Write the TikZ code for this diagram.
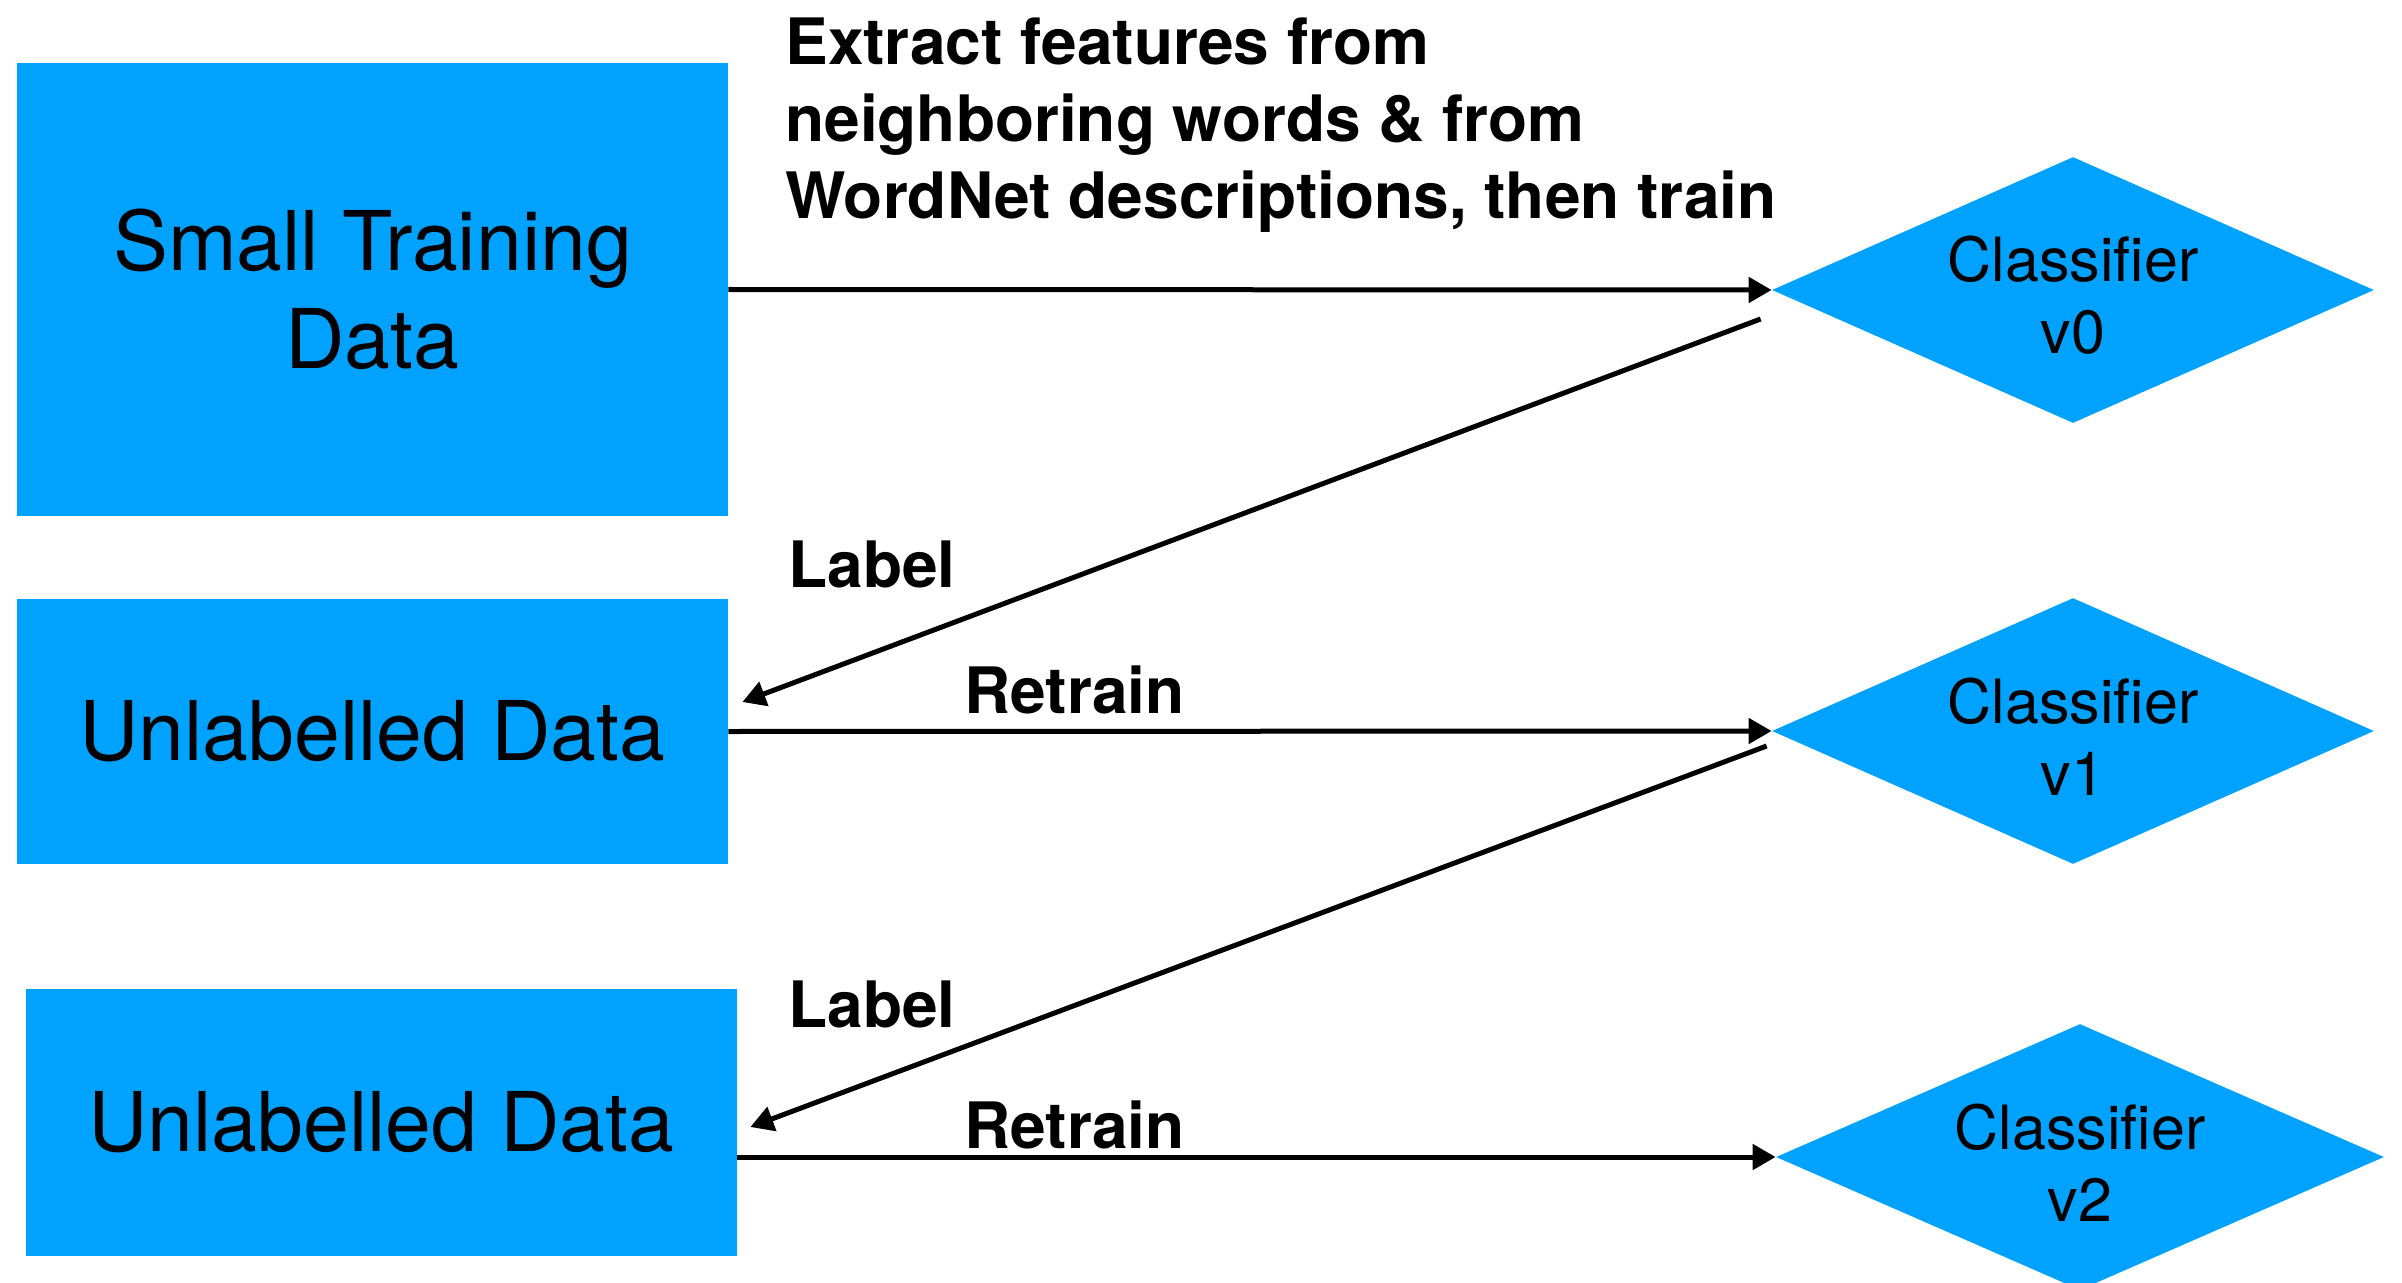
\documentclass[tikz,border=0pt]{standalone}
\usepackage{fontspec}
\setmainfont{TeX Gyre Heros}
\usetikzlibrary{arrows.meta,shapes.geometric}
\definecolor{boxblue}{RGB}{0,162,255}
\begin{document}
\begin{tikzpicture}[x=0.5pt,y=-0.5pt,
  databox/.style={rectangle, fill=boxblue, inner sep=0pt, align=center,
    minimum width=355.5pt, font=\fontsize{41.2}{49}\selectfont},
  classbox/.style={diamond, fill=boxblue, inner sep=0pt, aspect=2.27,
    minimum width=301pt, minimum height=133pt, align=center,
    font=\fontsize{30.5}{36}\selectfont},
  flow/.style={line width=2.5pt, -{Triangle[length=11.5pt,width=12.5pt]}},
  steptext/.style={font=\fontsize{32}{38.5}\selectfont\bfseries,
    inner sep=0pt, anchor=base west}]
  \useasboundingbox (0,0) rectangle (2402,1283);

  % data boxes
  \node[databox, minimum height=226.5pt] (b1) at (372.5,289.5) {Small Training\\Data};
  \node[databox, minimum height=132.5pt] (b2) at (372.5,731.5) {Unlabelled Data};
  \node[databox, minimum height=133.5pt] (b3) at (381.5,1122.5) {Unlabelled Data};

  % classifiers (the strut lowers the two lines a little inside the diamond)
  \newcommand{\clsname}[1]{\rule{0pt}{28pt}Classifier\\#1}
  \node[classbox] (d0) at (2073,290) {\clsname{v0}};
  \node[classbox] (d1) at (2073,731) {\clsname{v1}};
  \node[classbox, minimum width=304pt] (d2) at (2080,1157) {\clsname{v2}};

  % training and labelling steps
  \draw[flow] (b1.east) -- (d0.west);
  \draw[flow] ([shift={(-11,29)}]d0.west) -- ([shift={(14,-29.5)}]b2.east);
  \draw[flow] (b2.east) -- (d1.west);
  \draw[flow] ([shift={(-5,15)}]d1.west) -- ([shift={(13,4.5)}]b3.east);
  \draw[flow] (b3.east |- d2.west) -- (d2.west);

  % step captions
  \node[steptext, align=left] (feat) at (785,219)
    {Extract features from\\neighboring words \& from\\WordNet descriptions, then train};
  \node[steptext] (lab1) at (788,587) {Label};
  \node[steptext] (ret1) at (964,713) {Retrain};
  \node[steptext] (lab2) at (788,1027) {Label};
  \node[steptext] (ret2) at (964,1148) {Retrain};
\end{tikzpicture}
\end{document}
